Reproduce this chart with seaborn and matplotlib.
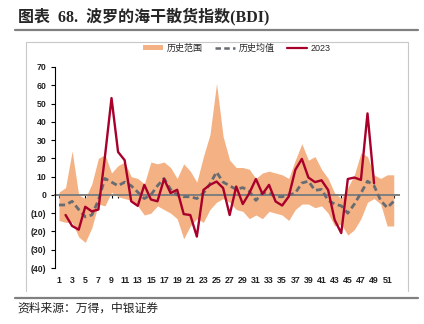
import matplotlib
matplotlib.use("Agg")
import matplotlib.pyplot as plt
import seaborn as sns
import numpy as np
import pandas as pd
from matplotlib.lines import Line2D
from matplotlib.patches import Patch

weeks = list(range(1, 53))
range_upper = [1.5, 4, 24, 0, -2, 6, 20, 22, 12, 16, 18, 10, 9, 6, 18, 17, 18, 15, 9, 17,
               13, 7, 21, 33, 61, 32, 19, 15, 15, 14, 9, 12, 13, 12, 11, 9, 19, 28, 19, 21,
               14, 9, 1, -2, 4, 11, 23, 21, 11, 9, 11, 11]
range_lower = [-14, -15, -15, -23, -26, -18, -5, -6, 1.5, -1, -2, -3, -6, -11, -10, -6, -8, -10, -13, -24,
               -17, -13, -15, -8, -4, -2, -4, -8, -9, -13, -11, -13, -9, -10, -11, -14, -8, -5, -5, -7,
               -6, -10, -17, -16, -22, -19, -13, -4, -2, -5, -17, -17]
hist_mean = [-5.5, -5.5, -3.5, -8, -12, -11, -3, 9, 7, 5, 7, 5, 1.5, -2, 0, 5, 9, 3, 0, -1,
             -1, -2, 1, 6, 12.5, 7, 5, 3, 4, 2, -3, 1, 1, -1, -1, 0, 1, 6.5, 7.5, 2.5,
             3, -3, -5, -6, -10, -5, 1, 7.5, 5, -3, -7, -3.5]
weeks_2023 = list(range(2, 50))
bdi_2023 = [-11, -17, -19, -6.5, -9, -8, 21, 53, 23.5, 19, -3.5, -6, 5.5, -2.5, -3.5, 8.7, 1, 2.8, -10.5, -11,
            -22.8, 2.7, 5.5, 7.3, 3.8, -11, 4.6, -5, 1, 8.7, 0.5, 5.5, -3.6, -5.8, -0.9, 13.7, 19.7, 9.5,
            7, 8, 2.7, -13.7, -20.9, 8.7, 9.5, 8.2, 44.6, 6.4]
y_ticks = [70, 60, 50, 40, 30, 20, 10, 0, -10, -20, -30, -40]
y_labels = ["70", "60", "50", "40", "30", "20", "10", "0", "(10)", "(20)", "(30)", "(40)"]
x_label_weeks = list(range(1, 53, 2))

c_range = "#F4B183"
c_mean = "#666C72"
c_red = "#A8002A"

sns.set_theme(style="white")
plt.rcParams["font.family"] = ["Liberation Sans", "Noto Sans CJK SC", "DejaVu Sans"]

fig = plt.figure(figsize=(4.24, 3.24), dpi=100)
ax = fig.add_axes([55 / 424, 1 - 268 / 324, 344 / 424, 201 / 324])

ax.fill_between(weeks, range_lower, range_upper, color=c_range, linewidth=0, zorder=1)
df_mean = pd.DataFrame({"week": weeks, "value": hist_mean})
sns.lineplot(data=df_mean, x="week", y="value", ax=ax, color=c_mean, linewidth=2.0,
             linestyle=(0, (2.2, 1.3)), zorder=3)
df_23 = pd.DataFrame({"week": weeks_2023, "value": bdi_2023})
sns.lineplot(data=df_23, x="week", y="value", ax=ax, color=c_red, linewidth=1.7, zorder=4)

ax.set_xlim(0.39, 52.8)
ax.set_ylim(-40, 70)
ax.set_xlabel("")
ax.set_ylabel("")

for s in ["top", "right"]:
    ax.spines[s].set_visible(False)
ax.spines["left"].set_color("black")
ax.spines["left"].set_linewidth(0.8)
ax.spines["bottom"].set_position(("data", 0))
ax.spines["bottom"].set_color("#7F7F7F")
ax.spines["bottom"].set_linewidth(1.4)
ax.spines["bottom"].set_zorder(2)

ax.set_yticks(y_ticks)
ax.set_yticklabels(y_labels, fontsize=6.3, fontweight="bold", color="#222222")
ax.tick_params(axis="y", direction="out", length=3, width=0.8, color="black", left=True, pad=3)
ax.set_xticks(weeks)
ax.tick_params(axis="x", direction="out", length=2.5, width=0.8, color="black",
               bottom=True, labelbottom=False)

sec = ax.secondary_xaxis(0)
sec.set_xticks(x_label_weeks)
sec.set_xticklabels([str(w) for w in x_label_weeks], fontsize=6.3, fontweight="bold", color="#222222")
sec.tick_params(axis="x", length=0, pad=6)
sec.spines["bottom"].set_visible(False)

handles = [Patch(facecolor=c_range, edgecolor="none"),
           Line2D([], [], color=c_mean, linewidth=1.8, linestyle=(0, (2.2, 1.3))),
           Line2D([], [], color=c_red, linewidth=1.6)]
fig.legend(handles, ["历史范围", "历史均值", "2023"], loc="center", bbox_to_anchor=(237 / 424, 1 - 48 / 324),
           ncol=3, frameon=False, prop={"family": ["Liberation Sans", "Noto Sans CJK SC"], "size": 6.5},
           handlelength=2.2, handleheight=0.5, columnspacing=1.4, handletextpad=0.4)

fig.text(18 / 424, 1 - 16 / 324, "图表  68.  波罗的海干散货指数(BDI)", ha="left", va="center",
         fontsize=11.5, fontweight="bold", family=["Liberation Serif", "Noto Sans CJK SC"])
fig.text(17 / 424, 1 - 308 / 324, "资料来源：万得，中银证券", ha="left", va="center",
         fontsize=8.5, family=["Noto Sans CJK SC", "DejaVu Sans"], color="#222222")

fig.add_artist(Line2D([15 / 424, 418 / 424], [1 - 29.5 / 324, 1 - 29.5 / 324], color="#808080", linewidth=1.6))
fig.add_artist(Line2D([15 / 424, 418 / 424], [1 - 297.5 / 324, 1 - 297.5 / 324], color="#808080", linewidth=1.6))
fig.add_artist(Line2D([26 / 424, 26 / 424, 408 / 424, 408 / 424],
                      [1 - 291 / 324, 1 - 42 / 324, 1 - 42 / 324, 1 - 291 / 324],
                      color="#C8C8C8", linewidth=0.8))

fig.savefig("out.png", dpi=100)
